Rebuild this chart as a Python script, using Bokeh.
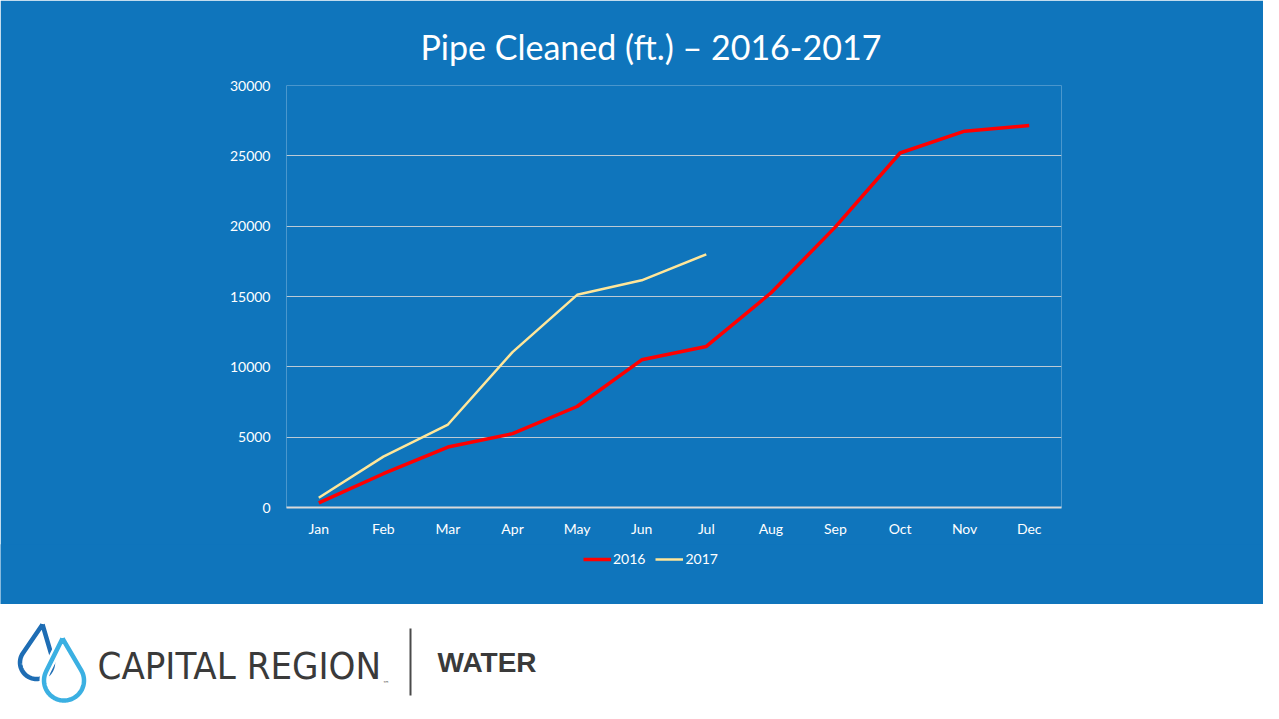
import math
from bokeh.plotting import figure
from bokeh.models import (FactorRange, Range1d, FixedTicker, Legend, LegendItem,
                          ColumnDataSource)
from bokeh.layouts import column
from bokeh.embed import file_html
from bokeh.resources import INLINE
from bokeh.core.properties import value

# ---------------- data ----------------
months = ["Jan", "Feb", "Mar", "Apr", "May", "Jun",
          "Jul", "Aug", "Sep", "Oct", "Nov", "Dec"]
pipe_2016 = [330, 2400, 4300, 5250, 7180, 10500,
             11450, 15250, 19950, 25200, 26750, 27150]
months_2017 = ["Jan", "Feb", "Mar", "Apr", "May", "Jun", "Jul"]
pipe_2017 = [690, 3620, 5900, 11050, 15120, 16150, 18000]
y_ticks = [0, 5000, 10000, 15000, 20000, 25000, 30000]
series_names = ["2016", "2017"]
title_text = "Pipe Cleaned (ft.) \u2013 2016-2017"

BLUE = "#0f75bc"
RED = "#ff0000"
GOLD = "#ffe699"
GRID = "#d9d9d9"
FONT = "Lato"

W = 1263
CHART_H = 545
LEG_H = 60
BOT_H = 99

# ---------------- chart ----------------
p = figure(width=W, height=CHART_H,
           x_range=FactorRange(factors=months, range_padding=0),
           y_range=Range1d(0, 30000),
           output_backend="svg", toolbar_location=None,
           min_border_left=286, min_border_right=W - 1061,
           min_border_top=85, min_border_bottom=CHART_H - 507)
p.frame_align = False
p.background_fill_color = BLUE
p.border_fill_color = BLUE
p.outline_line_color = None

p.title.text = title_text
p.title.text_font = FONT
p.title.text_font_size = "34px"
p.title.text_font_style = "normal"
p.title.text_color = "#ffffff"
p.title.align = "left"
p.title.offset = 134
p.title.standoff = 37

p.yaxis.ticker = FixedTicker(ticks=y_ticks)
p.yaxis.axis_line_color = None
p.yaxis.major_tick_line_color = None
p.yaxis.minor_tick_line_color = None
p.yaxis.major_tick_out = 0
p.yaxis.major_tick_in = 0
p.yaxis.major_label_standoff = 16
p.yaxis.major_label_text_font = FONT
p.yaxis.major_label_text_font_size = "14px"
p.yaxis.major_label_text_color = "#ffffff"

p.xaxis.axis_line_color = GRID
p.xaxis.axis_line_width = 2
p.xaxis.major_tick_line_color = None
p.xaxis.minor_tick_line_color = None
p.xaxis.major_tick_out = 0
p.xaxis.major_tick_in = 0
p.xaxis.major_label_standoff = 12
p.xaxis.major_label_text_font = FONT
p.xaxis.major_label_text_font_size = "14px"
p.xaxis.major_label_text_color = "#ffffff"

p.xgrid.grid_line_color = None
p.ygrid.ticker = FixedTicker(ticks=y_ticks)
p.ygrid.grid_line_color = GRID
p.ygrid.grid_line_alpha = 0.85
p.ygrid.grid_line_width = 1

src16 = ColumnDataSource(dict(x=months, y=pipe_2016))
src17 = ColumnDataSource(dict(x=months_2017, y=pipe_2017))
p.line("x", "y", source=src16, line_color=RED, line_width=3.5)
p.line("x", "y", source=src17, line_color=GOLD, line_width=2.5)

# ---------------- legend strip ----------------
lg = figure(width=W, height=LEG_H,
            x_range=Range1d(0, W), y_range=Range1d(0, LEG_H),
            output_backend="svg", toolbar_location=None, min_border=0)
lg.margin = (-1, 0, 0, 0)
lg.frame_align = False
lg.axis.visible = False
lg.grid.visible = False
lg.outline_line_color = None
lg.background_fill_color = BLUE
lg.border_fill_color = BLUE
# legend keys: off-screen sample strokes so the legend can draw its glyphs
k16 = lg.line(x=[-20, -10], y=[-20, -20], line_color=RED, line_width=3.5)
k17 = lg.line(x=[-20, -10], y=[-20, -20], line_color=GOLD, line_width=2.5)
legend = Legend(items=[LegendItem(label=series_names[0], renderers=[k16]),
                       LegendItem(label=series_names[1], renderers=[k17])],
                orientation="horizontal", location=(579, 33))
legend.background_fill_alpha = 0
legend.border_line_alpha = 0
legend.label_text_color = "#ffffff"
legend.label_text_font = FONT
legend.label_text_font_size = "14px"
legend.glyph_width = 28
legend.glyph_height = 16
legend.label_standoff = 2
legend.spacing = 10
legend.padding = 4
legend.margin = 0
lg.add_layout(legend)

# ---------------- logo strip ----------------
q = figure(width=W, height=BOT_H,
           x_range=Range1d(0, W), y_range=Range1d(BOT_H, 0),
           output_backend="svg", toolbar_location=None,
           min_border=0)
q.frame_align = False
q.axis.visible = False
q.grid.visible = False
q.outline_line_color = None
q.background_fill_color = "#ffffff"
q.border_fill_color = "#ffffff"


def drop(cx, cy, r, tx, ty, n=60):
    dx, dy = tx - cx, ty - cy
    d = math.hypot(dx, dy)
    phi = math.atan2(dy, dx)
    beta = math.acos(r / d)
    a0 = phi + beta
    a1 = phi - beta + 2 * math.pi
    xs, ys = [tx], [ty]
    for i in range(n + 1):
        a = a0 + (a1 - a0) * i / n
        xs.append(cx + r * math.cos(a))
        ys.append(cy + r * math.sin(a))
    xs.append(tx)
    ys.append(ty)
    return xs, ys


dx_, dy_ = drop(36, 58, 16.5, 42, 20)
q.line(dx_, dy_, line_color="#1e6db4", line_width=4.5, line_join="round")
lx_, ly_ = drop(63.5, 76, 20, 62, 34)
q.line(lx_, ly_, line_color="#ffffff", line_width=9, line_join="round")
q.line(lx_, ly_, line_color="#3bb0e2", line_width=4.5, line_join="round")

q.text(x=[97], y=[61], text=["CAPITAL REGION"],
       text_font=value("DejaVu Sans Condensed"), text_font_size="38px",
       text_color="#3a3a3a", text_align="left", text_baseline="middle")
q.text(x=[382], y=[79], text=["\u2122"],
       text_font=value("DejaVu Sans"), text_font_size="7px",
       text_color="#666666", text_align="left", text_baseline="middle")
q.segment(x0=[410], y0=[24], x1=[410], y1=[91],
          line_color="#4a4a4a", line_width=2)
q.text(x=[437], y=[58], text=["WATER"],
       text_font=value("Liberation Sans"), text_font_style="bold",
       text_font_size="28px",
       text_color="#3a3a3a", text_align="left", text_baseline="middle")

layout = column(p, lg, q, spacing=0)
open("out.html", "w").write(file_html(layout, INLINE))
